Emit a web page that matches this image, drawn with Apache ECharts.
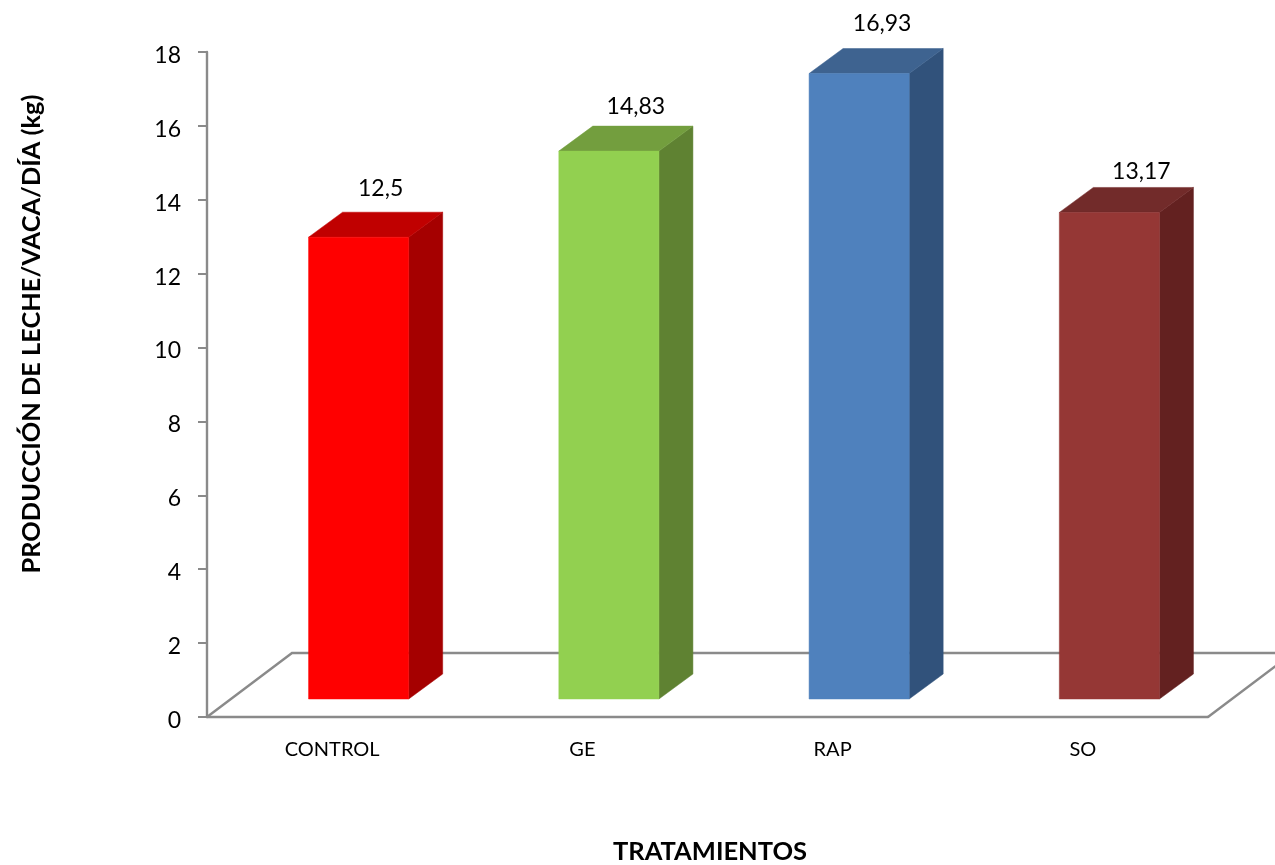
<!DOCTYPE html>
<html>
<head>
<meta charset="utf-8">
<style>html,body{margin:0;padding:0;background:#fff}#chart{width:1275px;height:865px}</style>
<script src="https://cdn.jsdelivr.net/npm/echarts@6/dist/echarts.min.js"></script>
</head>
<body>
<div id="chart"></div>
<script>
// Milk yield per cow per day, by treatment
const categories = ['CONTROL', 'GE', 'RAP', 'SO'];
const yieldKg = [12.5, 14.83, 16.93, 13.17];
const frontColors = ['#FF0000', '#92D050', '#4F81BD', '#953735'];
const topColors = ['#C00000', '#739E3E', '#3E6390', '#722B2A'];
const sideColors = ['#A50000', '#5F8232', '#31527B', '#632120'];
const yTicks = { min: 0, max: 18, interval: 2 };

const FONT = 'Lato, "Open Sans", sans-serif';
const AXIS_COLOR = '#8A8A8A';

// Oblique projection used by the floor and the bar boxes
const FLOOR_DX = 85, FLOOR_DY = 64;
const BOX_DX = 34, BOX_DY = 25;
const BOX_LIFT = 18, BOX_SHIFT = 26.5;
// Hand-placed value labels, relative to each box's back top edge
const LABEL_NUDGE = [[22, -24], [27, -20], [23, -25], [32, -16]];

const chart = echarts.init(document.getElementById('chart'), null, { renderer: 'canvas' });

function renderFloor(params, api) {
  const c = params.coordSys;
  const bottom = c.y + c.height;
  return {
    type: 'polyline',
    silent: true,
    shape: { points: [
      [c.x, bottom],
      [c.x + FLOOR_DX, bottom - FLOOR_DY],
      [c.x + c.width + FLOOR_DX, bottom - FLOOR_DY],
      [c.x + c.width, bottom]
    ] },
    style: { fill: null, stroke: AXIS_COLOR, lineWidth: 2.4 }
  };
}

function renderBox(params, api) {
  const i = api.value(0);
  const v = api.value(1);
  const band = api.size([1, 0])[0];
  const w = band * 0.4;
  const base = api.coord([i, 0]);
  const head = api.coord([i, v]);
  const l = base[0] - w / 2 + BOX_SHIFT;
  const r = l + w;
  const b = base[1] - BOX_LIFT;
  const t = head[1] - BOX_LIFT;
  const face = (pts, fill) => ({
    type: 'polygon',
    shape: { points: pts },
    style: { fill: fill, stroke: fill, lineWidth: 0.5 }
  });
  return {
    type: 'group',
    children: [
      face([[r, b], [r + BOX_DX, b - BOX_DY], [r + BOX_DX, t - BOX_DY], [r, t]], sideColors[i]),
      face([[l, t], [l + BOX_DX, t - BOX_DY], [r + BOX_DX, t - BOX_DY], [r, t]], topColors[i]),
      face([[l, b], [r, b], [r, t], [l, t]], frontColors[i]),
      {
        type: 'text',
        style: {
          text: String(v).replace('.', ','),
          x: (l + r) / 2 + LABEL_NUDGE[i][0],
          y: t - BOX_DY + LABEL_NUDGE[i][1],
          align: 'center',
          verticalAlign: 'middle',
          fill: '#000',
          font: '23px ' + FONT
        }
      }
    ]
  };
}

chart.setOption({
  animation: false,
  backgroundColor: '#fff',
  grid: { left: 207, top: 52, width: 1001, height: 665, outerBoundsMode: 'none' },
  xAxis: {
    type: 'category',
    data: categories,
    axisLine: { lineStyle: { color: AXIS_COLOR, width: 2.4 } },
    axisTick: { length: 8, lineStyle: { color: AXIS_COLOR, width: 2 } },
    axisLabel: { color: '#000', fontFamily: FONT, fontSize: 20, margin: 23 },
    name: 'TRATAMIENTOS',
    nameLocation: 'middle',
    nameGap: 122,
    nameTextStyle: { color: '#000', fontFamily: FONT, fontSize: 25.5, fontWeight: 'bold', padding: [0, 0, 0, 5] }
  },
  yAxis: {
    type: 'value',
    min: yTicks.min,
    max: yTicks.max,
    interval: yTicks.interval,
    splitLine: { show: false },
    axisLine: { show: true, lineStyle: { color: AXIS_COLOR, width: 2.4 } },
    axisTick: { show: true, length: 9, lineStyle: { color: AXIS_COLOR, width: 2 } },
    axisLabel: {
      margin: 26,
      formatter: '{n|{value}}',
      rich: { n: { color: '#000', fontFamily: FONT, fontSize: 23, padding: [7, 0, 0, 0] } }
    }
  },
  graphic: [{
    type: 'text',
    rotation: Math.PI / 2,
    x: 32,
    y: 334,
    style: {
      text: 'PRODUCCIÓN DE LECHE/VACA/DÍA (kg)',
      align: 'center',
      verticalAlign: 'middle',
      fill: '#000',
      font: 'bold 25.4px ' + FONT
    }
  }],
  series: [
    { type: 'custom', name: 'Piso', renderItem: renderFloor, data: [[0, 0]], z: 1, silent: true },
    { type: 'custom', name: 'Producción', renderItem: renderBox, z: 3, encode: { x: 0, y: 1 },
      data: yieldKg.map((v, i) => [i, v]) }
  ]
});
</script>
</body>
</html>
